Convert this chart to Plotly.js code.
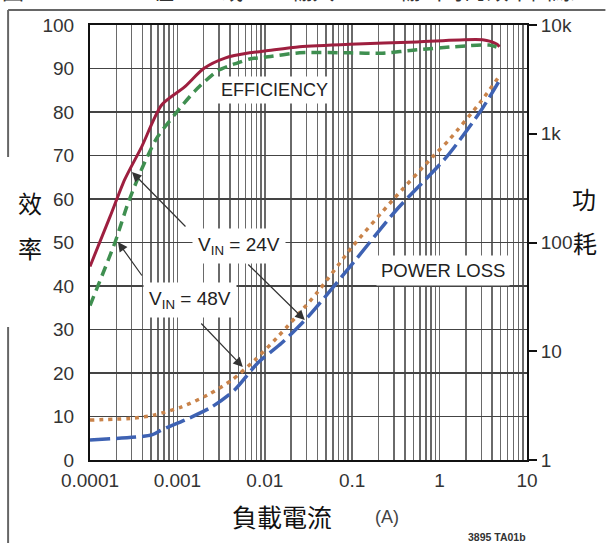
<!DOCTYPE html>
<html>
<head>
<meta charset="utf-8">
<script src="https://cdn.plot.ly/plotly-3.0.1.min.js"></script>
<style>html,body{margin:0;padding:0;background:#fff;}#chart{width:606px;height:543px;}</style>
</head>
<body>
<div id="chart"></div>
<script>
// ---- data ----
const effCurrent24 = [0.0001, 0.00017, 0.00025, 0.00039, 0.00066, 0.0012, 0.002, 0.0035, 0.0067, 0.01, 0.025, 0.094, 0.55, 3.1, 4.5, 4.85];
const eff24 = [44.5, 56, 64.5, 72, 81.6, 85.7, 90, 92.4, 93.6, 94, 95, 95.6, 96.1, 96.6, 95.6, 95];

const effCurrent48 = [0.0001, 0.000193, 0.000272, 0.000393, 0.00058, 0.00094, 0.00158, 0.0029, 0.0049, 0.0067, 0.01, 0.025, 0.094, 0.22, 0.55, 2.0, 3.7, 4.85];
const eff48 = [35.5, 50, 59, 67, 74, 79.5, 84.8, 89.5, 91.3, 92.2, 92.6, 93.6, 93.6, 93.5, 94.3, 95.2, 95.4, 94.7];

const lossCurrent48 = [0.0001, 0.000327, 0.00055, 0.00112, 0.00223, 0.0042, 0.0077, 0.014, 0.039, 0.1, 0.29, 0.83, 1.3, 3.0, 4.72];
const loss48 = [2.33, 2.43, 2.6, 3.08, 3.97, 5.44, 8.3, 13.5, 34, 91, 245, 612, 890, 2000, 3310];

const lossCurrent24 = [0.0001, 0.00051, 0.00066, 0.00122, 0.00248, 0.0045, 0.0083, 0.0156, 0.031, 0.094, 0.32, 1.2, 3.0, 4.72];
const loss24 = [1.53, 1.7, 1.89, 2.33, 3.08, 4.4, 7.8, 11.9, 20.6, 59.6, 199, 612, 1650, 2990];

const xDecades = [0.0001, 0.001, 0.01, 0.1, 1, 10];
const xDecadeLabels = ['0.0001', '0.001', '0.01', '0.1', '1', '10'];
const y2Ticks = [1, 10, 100, 1000, 10000];
const y2Labels = ['1', '10', '100', '1k', '10k'];

// build tick arrays including minor grid positions (2..9 per decade)
const xTickVals = [];
const xTickText = [];
xDecades.forEach((d, i) => {
  xTickVals.push(d); xTickText.push(xDecadeLabels[i]);
  if (i < xDecades.length - 1) {
    for (let m = 2; m <= 9; m++) { xTickVals.push(d * m); xTickText.push(''); }
  }
});

// pixel helpers for annotation placement (plot area 90..527.5 x, 25..460 y)
const L = 90, R = 527.5, T = 25, B = 460;
const px = v => (v - L) / (R - L);
const py = v => (B - v) / (B - T);

const FONT = 'Liberation Sans, Arial, sans-serif';
const CJK = 'Noto Sans CJK TC, Noto Sans CJK SC, sans-serif';

const traces = [
  {x: effCurrent24, y: eff24, type: 'scatter', mode: 'lines', yaxis: 'y',
   line: {color: '#9e1f3f', width: 3, shape: 'spline', smoothing: 0.7}},
  {x: effCurrent48, y: eff48, type: 'scatter', mode: 'lines', yaxis: 'y',
   line: {color: '#3f8f50', width: 3.5, dash: '10px,6px', shape: 'spline', smoothing: 0.7}},
  {x: lossCurrent48, y: loss48, type: 'scatter', mode: 'lines', yaxis: 'y2',
   line: {color: '#c9834a', width: 3.5, dash: '4px,5px', shape: 'spline', smoothing: 0.7}},
  {x: lossCurrent24, y: loss24, type: 'scatter', mode: 'lines', yaxis: 'y2',
   line: {color: '#3e62b3', width: 3.5, dash: '20px,6px', shape: 'spline', smoothing: 0.7}}
];

const arrow = (hx, hy, tx, ty) => ({
  xref: 'paper', yref: 'paper', x: px(hx), y: py(hy), text: '',
  showarrow: true, ax: tx - hx, ay: ty - hy, arrowhead: 2, arrowsize: 1.6,
  arrowwidth: 1.2, arrowcolor: '#333'
});

const label = (text, cx, cy, size, extra) => Object.assign({
  xref: 'paper', yref: 'paper', x: px(cx), y: py(cy), text: text,
  showarrow: false, xanchor: 'center', yanchor: 'middle',
  font: {family: FONT, size: size, color: '#222'}
}, extra || {});

const layout = {
  width: 606, height: 543,
  margin: {l: 90, r: 78.5, t: 25, b: 83, pad: 0},
  paper_bgcolor: '#fff', plot_bgcolor: '#fff',
  showlegend: false,
  xaxis: {
    type: 'log', range: [-4, 1], tickvals: xTickVals, ticktext: xTickText,
    ticks: '', showgrid: true, gridcolor: '#6a6a6a', gridwidth: 1.5,
    showline: true, linecolor: '#111', linewidth: 2, mirror: true,
    zeroline: false, ticklabelstandoff: 2,
    tickfont: {family: FONT, size: 19, color: '#333'}
  },
  yaxis: {
    range: [0, 100], dtick: 10, tick0: 0, ticks: '', showgrid: true,
    gridcolor: '#444', gridwidth: 1.5, zeroline: false,
    showline: true, linecolor: '#111', linewidth: 2, mirror: true,
    ticklabelstandoff: 10,
    tickfont: {family: FONT, size: 19, color: '#333'}
  },
  yaxis2: {
    type: 'log', range: [0, 4], overlaying: 'y', side: 'right',
    tickvals: y2Ticks, ticktext: y2Labels, showgrid: false, zeroline: false,
    ticks: 'outside', ticklen: 8, tickwidth: 2, tickcolor: '#111',
    showline: true, linecolor: '#111', linewidth: 2,
    tickfont: {family: FONT, size: 19, color: '#333'}
  },
  annotations: [
    label('EFFICIENCY', 275, 90, 18, {bgcolor: '#fff', borderpad: 3}),
    label('POWER LOSS', 443, 270, 18.5, {bgcolor: '#fff', borderpad: 4}),
    label('V<sub>IN</sub> = 24V', 239, 246, 19, {bgcolor: '#fff', borderpad: 5}),
    label('V<sub>IN</sub> = 48V', 190, 300, 19, {bgcolor: '#fff', borderpad: 5}),
    arrow(132, 172, 187, 228),
    arrow(305, 320, 247, 263),
    arrow(118, 242, 143, 277),
    arrow(243, 367, 200, 322),
    label('效', 30, 203, 24, {font: {family: CJK, size: 24, color: '#111'}}),
    label('率', 30, 247, 24, {font: {family: CJK, size: 24, color: '#111'}}),
    label('功', 585, 198, 24, {font: {family: CJK, size: 24, color: '#111'}}),
    label('耗', 586, 242, 24, {font: {family: CJK, size: 24, color: '#111'}}),
    label('負載電流', 282, 516, 25, {font: {family: CJK, size: 25, color: '#111'}}),
    label('(A)', 387, 517, 18, {font: {family: FONT, size: 18, color: '#444'}}),
    label('<b>3895 TA01b</b>', 497, 537, 10.5, {font: {family: FONT, size: 10.5, color: '#333'}}),
    {xref: 'paper', yref: 'paper', x: px(0), y: py(7), xanchor: 'left', yanchor: 'bottom',
     text: '圖 2：LTC3895 在 24V 或 48V 輸入、12V 輸出時的效率曲線', showarrow: false,
     font: {family: CJK, size: 22, color: '#333'}}
  ],
  shapes: [
    {type: 'line', xref: 'paper', yref: 'paper', x0: px(8), y0: py(10), x1: px(606), y1: py(10), line: {color: '#666', width: 2}},
    {type: 'line', xref: 'paper', yref: 'paper', x0: px(8), y0: py(10), x1: px(8), y1: py(157), line: {color: '#666', width: 2}},
    {type: 'line', xref: 'paper', yref: 'paper', x0: px(8), y0: py(327), x1: px(8), y1: py(543), line: {color: '#666', width: 2}}
  ]
};

Plotly.newPlot('chart', traces, layout, {staticPlot: true, displayModeBar: false});
</script>
</body>
</html>
